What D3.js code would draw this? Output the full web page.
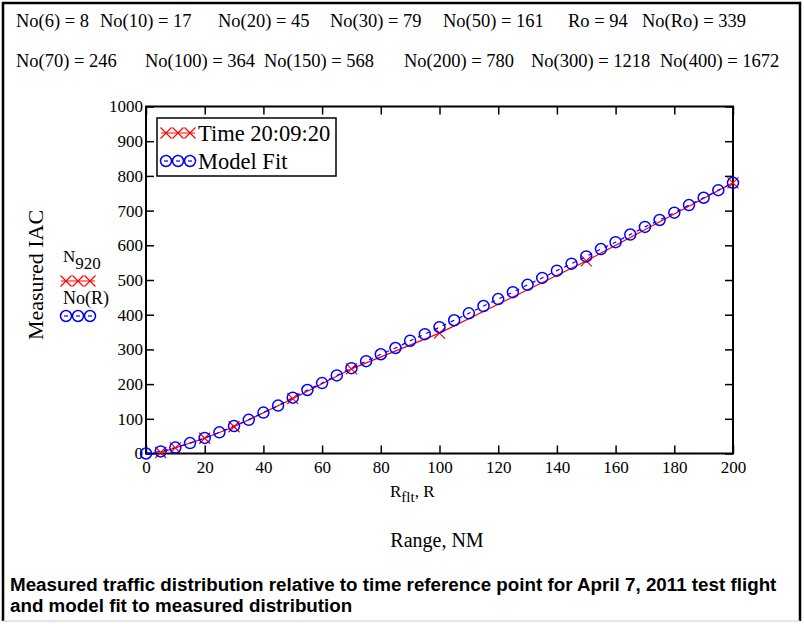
<!DOCTYPE html>
<html>
<head>
<meta charset="utf-8">
<script src="https://cdn.jsdelivr.net/npm/d3@7"></script>
<style>
  body { margin: 0; background: #fff; }
</style>
</head>
<body>
<div id="chart"></div>
<script>
// 측정값 / 모델값
const measR = [5, 10, 20, 30, 50, 70, 100, 150, 200];
const measN = [3, 16, 44, 77, 158, 244, 347, 555, 780];

const modelR = [0, 5, 10, 15, 20, 25, 30, 35, 40, 45, 50, 55, 60, 65, 70, 75, 80, 85, 90, 95, 100,
  105, 110, 115, 120, 125, 130, 135, 140, 145, 150, 155, 160, 165, 170, 175, 180, 185, 190, 195, 200];
const modelN = [0, 6, 17, 30, 45, 61, 79, 97, 118, 138, 161, 183, 203, 225, 246, 266, 286, 304, 325, 344, 364,
  384, 404, 425, 445, 465, 486, 506, 527, 547, 568, 589, 609, 631, 653, 673, 694, 716, 737, 759, 780];

const xTicks = [0, 20, 40, 60, 80, 100, 120, 140, 160, 180, 200];
const yTicks = [0, 100, 200, 300, 400, 500, 600, 700, 800, 900, 1000];

const topLine1 = ['No(6) = 8', 'No(10) = 17', 'No(20) = 45', 'No(30) = 79', 'No(50) = 161', 'Ro = 94', 'No(Ro) = 339'];
const topLine2 = ['No(70) = 246', 'No(100) = 364', 'No(150) = 568', 'No(200) = 780', 'No(300) = 1218', 'No(400) = 1672'];
const legendNames = ['Time 20:09:20', 'Model Fit'];
const captionLines = [
  'Measured traffic distribution relative to time reference point for April 7, 2011 test flight',
  'and model fit to measured distribution'
];

// 레이아웃
const W = 804, H = 624;
const SERIF = '"Liberation Serif", "Times New Roman", serif';
const SANS = '"Liberation Sans", Arial, sans-serif';
const top1X = [16, 100, 218, 330, 443, 568, 642];
const top2X = [16, 145, 264, 404, 531, 660];

const svg = d3.select('#chart').append('svg')
  .attr('width', W).attr('height', H)
  .style('font-family', SERIF);

// 바깥 테두리
svg.append('path')
  .attr('d', `M3,621 V3 H800 V621`)
  .attr('fill', 'none').attr('stroke', '#000').attr('stroke-width', 2.5);
svg.append('line').attr('x1', 3).attr('x2', 800).attr('y1', 621).attr('y2', 621)
  .attr('stroke', '#ccc').attr('stroke-width', 1);

// 상단 수치
const fs = 18.5;
svg.append('g').selectAll('text').data(topLine1).join('text')
  .attr('x', (d, i) => top1X[i]).attr('y', 27).attr('font-size', fs).text(d => d);
svg.append('g').selectAll('text').data(topLine2).join('text')
  .attr('x', (d, i) => top2X[i]).attr('y', 67).attr('font-size', fs).text(d => d);

const x = d3.scaleLinear().domain([0, 200]).range([146, 733]);
const y = d3.scaleLinear().domain([0, 1000]).range([453.5, 106.5]);

const plot = svg.append('g');

// 축 (안쪽 눈금)
const tick = 8;
const axisStyle = g => {
  g.attr('font-family', SERIF).attr('font-size', 17);
  g.select('.domain').remove();
  g.selectAll('line').attr('stroke', '#000').attr('stroke-width', 1.5);
  g.selectAll('text').style('font-family', SERIF).attr('fill', '#000');
};
plot.append('g').attr('transform', `translate(0,${y(0)})`)
  .call(d3.axisBottom(x).tickValues(xTicks).tickSize(-tick).tickPadding(7).tickFormat(d3.format('d')))
  .call(axisStyle);
plot.append('g').attr('transform', `translate(0,${y(1000)})`)
  .call(d3.axisTop(x).tickValues(xTicks).tickSize(-tick).tickFormat(''))
  .call(axisStyle);
plot.append('g').attr('transform', `translate(${x(0)},0)`)
  .call(d3.axisLeft(y).tickValues(yTicks).tickSize(-tick).tickPadding(3).tickFormat(d3.format('d')))
  .call(axisStyle);
plot.append('g').attr('transform', `translate(${x(200)},0)`)
  .call(d3.axisRight(y).tickValues(yTicks).tickSize(-tick).tickFormat(''))
  .call(axisStyle);

plot.append('rect')
  .attr('x', x(0)).attr('y', y(1000))
  .attr('width', x(200) - x(0)).attr('height', y(0) - y(1000))
  .attr('fill', 'none').attr('stroke', '#000').attr('stroke-width', 2);

// 데이터
const meas = measR.map((r, i) => ({ r, n: measN[i] }));
const model = modelR.map((r, i) => ({ r, n: modelN[i] }));
const line = d3.line().x(d => x(d.r)).y(d => y(d.n));

plot.append('path').datum(meas).attr('d', line)
  .attr('fill', 'none').attr('stroke', '#ff0000').attr('stroke-width', 1.2);
plot.append('path').datum(model).attr('d', line)
  .attr('fill', 'none').attr('stroke', '#0000ff').attr('stroke-width', 1.2)
  .attr('stroke-dasharray', '4,5');

const cross = 5.5;
const crossPath = (cx, cy) => `M${cx - cross},${cy - cross}L${cx + cross},${cy + cross}M${cx - cross},${cy + cross}L${cx + cross},${cy - cross}`;
plot.append('g').selectAll('path').data(meas).join('path')
  .attr('d', d => crossPath(x(d.r), y(d.n)))
  .attr('stroke', '#ff0000').attr('stroke-width', 1.2).attr('fill', 'none');
plot.append('g').selectAll('circle').data(model).join('circle')
  .attr('cx', d => x(d.r)).attr('cy', d => y(d.n)).attr('r', 5.5)
  .attr('fill', 'none').attr('stroke', '#0000ff').attr('stroke-width', 1.5);

// 범례 기호
const drawCrosses = (g, xs, cy) => {
  g.append('line').attr('x1', xs[0] - 5).attr('x2', xs[2] + 5).attr('y1', cy).attr('y2', cy)
    .attr('stroke', '#ff0000').attr('stroke-width', 1.2);
  g.selectAll(null).data(xs).enter().append('path')
    .attr('d', cx => crossPath(cx, cy)).attr('stroke', '#ff0000').attr('stroke-width', 1.2);
};
const drawCircles = (g, xs, cy) => {
  g.selectAll(null).data(xs).enter().append('circle')
    .attr('cx', cx => cx).attr('cy', cy).attr('r', 5.5)
    .attr('fill', 'none').attr('stroke', '#0000ff').attr('stroke-width', 1.5);
  g.selectAll(null).data(xs).enter().append('line')
    .attr('x1', cx => cx - 2).attr('x2', cx => cx + 2).attr('y1', cy).attr('y2', cy)
    .attr('stroke', '#0000ff').attr('stroke-width', 1.2);
};

const lg = svg.append('g');
lg.append('rect').attr('x', 157).attr('y', 118).attr('width', 179).attr('height', 58)
  .attr('fill', '#fff').attr('stroke', '#000').attr('stroke-width', 1.5);
const lgX = [166, 178, 190];
drawCrosses(lg, lgX, 133);
drawCircles(lg, lgX, 161);
lg.selectAll('text.lgt').data(legendNames).join('text').attr('class', 'lgt')
  .attr('x', 198).attr('y', (d, i) => 141 + i * 28).attr('font-size', 22.5).text(d => d);

// 왼쪽 트레이스 표시
const side = svg.append('g');
const sideX = [66, 78, 90];
const nt = side.append('text').attr('x', 63).attr('y', 262).attr('font-size', 17);
nt.append('tspan').text('N');
nt.append('tspan').attr('dy', 7).attr('font-size', 17).text('920');
drawCrosses(side, sideX, 281);
side.append('text').attr('x', 63).attr('y', 304).attr('font-size', 18).text('No(R)');
drawCircles(side, sideX, 316);

svg.append('text')
  .attr('transform', 'translate(43,275) rotate(-90)')
  .attr('text-anchor', 'middle').attr('font-size', 22).text('Measured IAC');

// x축 제목
const xl = svg.append('text').attr('x', 390).attr('y', 497).attr('font-size', 17);
xl.append('tspan').text('R');
xl.append('tspan').attr('dy', 5).attr('font-size', 15).text('flt');
xl.append('tspan').attr('dy', -5).text(', R');

svg.append('text').attr('x', 437).attr('y', 547).attr('text-anchor', 'middle')
  .attr('font-size', 20).text('Range, NM');

svg.append('g').selectAll('text').data(captionLines).join('text')
  .attr('x', 10).attr('y', (d, i) => 591 + i * 21)
  .style('font-family', SANS)
  .attr('font-weight', 'bold').attr('font-size', 18.8).text(d => d);
</script>
</body>
</html>
